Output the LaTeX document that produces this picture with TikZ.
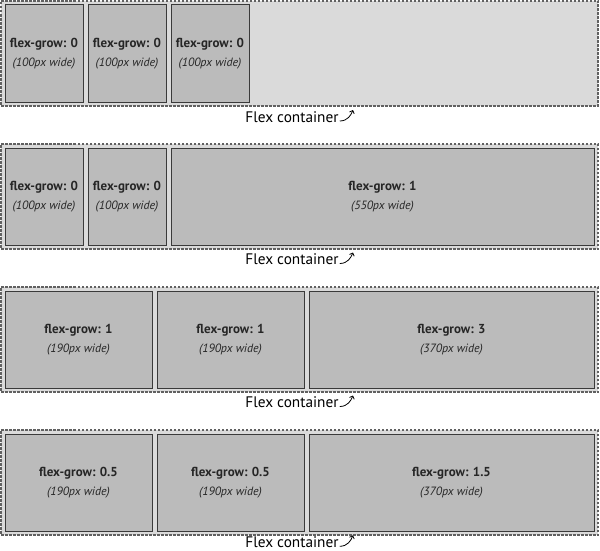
\documentclass[tikz,border=0pt]{standalone}
\usepackage{fontspec}
\setmainfont{PT Sans}
\usetikzlibrary{arrows.meta}
\definecolor{contfill}{HTML}{DADADA}
\definecolor{itemfill}{HTML}{BBBBBB}
\definecolor{edge}{HTML}{3A3A3A}
\tikzset{
  container/.style={draw=edge!80, fill=contfill, line width=1.2pt, dash pattern=on 2.5pt off 1.5pt, minimum height=105pt, inner sep=0pt},
  flexitem/.style={draw=edge, fill=itemfill, line width=1pt, minimum height=97pt, inner sep=0pt, align=center, font=\fontsize{12}{19}\selectfont, text=black!85},
  clabel/.style={font=\fontsize{15.3}{16}\selectfont, inner sep=0pt, text=black},
  carrow/.style={draw=black, line width=0.8pt, -{Straight Barb[length=2.5pt,width=5pt]}}
}
\newcommand{\itemtext}[2]{{\fontsize{13}{19}\selectfont\textbf{flex-grow: #1}}\\\textit{(#2px wide)}}
\begin{document}
\begin{tikzpicture}[x=1pt,y=-1pt]
\useasboundingbox (0,0) rectangle (600,551);
% ---------- Row 1
\node[container, minimum width=597pt] (c1) at (299.5,53.5) {};
\node[flexitem, minimum width=78pt] (r1a) at (44,53.5) {\itemtext{0}{100}};
\node[flexitem, minimum width=78pt] (r1b) at (127,53.5) {\itemtext{0}{100}};
\node[flexitem, minimum width=78pt] (r1c) at (210,53.5) {\itemtext{0}{100}};
\node[clabel] (l1) at (292,117) {Flex container};
\coordinate (a1) at (353,110);
\draw[carrow] ([shift={(1,4)}]l1.east) .. controls +(8,0) and +(-2,5) .. (a1);
% ---------- Row 2
\node[container, minimum width=597pt] (c2) at (299.5,196.5) {};
\node[flexitem, minimum width=78pt] (r2a) at (44,196.5) {\itemtext{0}{100}};
\node[flexitem, minimum width=78pt] (r2b) at (127,196.5) {\itemtext{0}{100}};
\node[flexitem, minimum width=423pt] (r2c) at (382.5,196.5) {\itemtext{1}{550}};
\node[clabel] (l2) at (292,259.5) {Flex container};
\coordinate (a2) at (353,252.5);
\draw[carrow] ([shift={(1,4)}]l2.east) .. controls +(8,0) and +(-2,5) .. (a2);
% ---------- Row 3
\node[container, minimum width=597pt] (c3) at (299.5,339.5) {};
\node[flexitem, minimum width=147pt] (r3a) at (78.5,339.5) {\itemtext{1}{190}};
\node[flexitem, minimum width=147pt] (r3b) at (230.5,339.5) {\itemtext{1}{190}};
\node[flexitem, minimum width=285pt] (r3c) at (451.5,339.5) {\itemtext{3}{370}};
\node[clabel] (l3) at (292,402.5) {Flex container};
\coordinate (a3) at (353,395.5);
\draw[carrow] ([shift={(1,4)}]l3.east) .. controls +(8,0) and +(-2,5) .. (a3);
% ---------- Row 4
\node[container, minimum width=597pt] (c4) at (299.5,482.5) {};
\node[flexitem, minimum width=147pt] (r4a) at (78.5,482.5) {\itemtext{0.5}{190}};
\node[flexitem, minimum width=147pt] (r4b) at (230.5,482.5) {\itemtext{0.5}{190}};
\node[flexitem, minimum width=285pt] (r4c) at (451.5,482.5) {\itemtext{1.5}{370}};
\node[clabel] (l4) at (292,542.3) {Flex container};
\coordinate (a4) at (353,535.3);
\draw[carrow] ([shift={(1,4)}]l4.east) .. controls +(8,0) and +(-2,5) .. (a4);
\end{tikzpicture}
\end{document}
